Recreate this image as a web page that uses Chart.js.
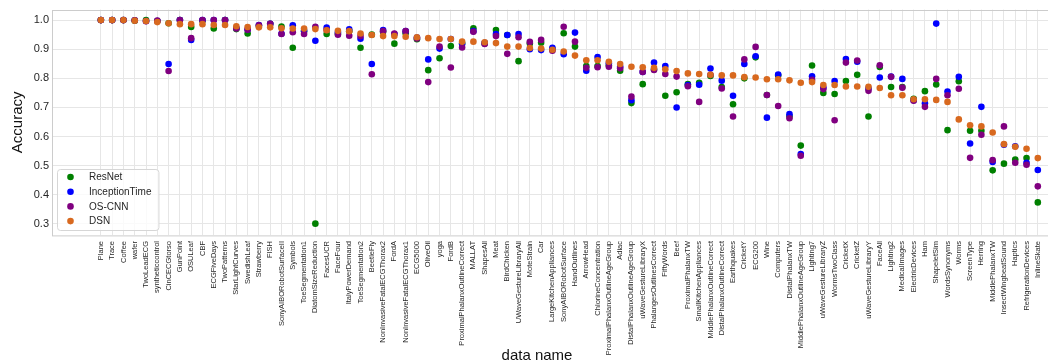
<!DOCTYPE html>
<html>
<head>
<meta charset="utf-8">
<script src="https://cdn.jsdelivr.net/npm/chart.js@4/dist/chart.umd.min.js"></script>
<style>
  html, body { margin: 0; padding: 0; background: #fff; overflow: hidden; }
  #wrap { width: 1090px; height: 364px; position: relative; }
</style>
</head>
<body>
<div id="wrap"><canvas id="accChart"></canvas></div>
<script>
let dataNames = ['Plane', 'Trace', 'Coffee', 'wafer', 'TwoLeadECG', 'syntheticcontrol', 'CinCECGtorso',
'GunPoint', 'OSULeaf', 'CBF', 'ECGFiveDays', 'TwoPatterns', 'StarLightCurves', 'SwedishLeaf',
'Strawberry', 'FISH', 'SonyAIBORobotSurfaceII', 'Symbols', 'ToeSegmentation1', 'DiatomSizeReduction',
'FacesUCR', 'FaceFour', 'ItalyPowerDemand', 'ToeSegmentation2', 'BeetleFly',
'NonInvasiveFatalECGThorax2', 'FordA', 'NonInvasiveFatalECGThorax1', 'ECG5000', 'OliveOil', 'yoga',
'FordB', 'ProximalPhalanxOutlineCorrect', 'MALLAT', 'ShapesAll', 'Meat', 'BirdChicken',
'UWaveGestureLibraryAll', 'MoteStrain', 'Car', 'LargeKitchenAppliances', 'SonyAIBORobotSurface',
'HandOutlines', 'ArrowHead', 'ChlorineConcentration', 'ProximalPhalanxOutlineAgeGroup', 'Adiac',
'DistalPhalanxOutlineAgeGroup', 'uWaveGestureLibraryX', 'PhalangesOutlinesCorrect', 'FiftyWords',
'Beef', 'ProximalPhalanxTW', 'SmallKitchenAppliances', 'MiddlePhalanxOutlineCorrect',
'DistalPhalanxOutlineCorrect', 'Earthquakes', 'CricketY', 'ECG200', 'Wine', 'Computers',
'DistalPhalanxTW', 'MiddlePhalanxOutlineAgeGroup', 'Lighting7', 'uWaveGestureLibraryZ',
'WormsTwoClass', 'CricketX', 'CricketZ', 'uWaveGestureLibraryY', 'FaceAll', 'Lighting2',
'MedicalImages', 'ElectricDevices', 'Ham', 'ShapeletSim', 'WordsSynonyms', 'Worms', 'ScreenType',
'Herring', 'MiddlePhalanxTW', 'InsectWingbeatSound', 'Haptics', 'RefrigerationDevices', 'InlineSkate'];

let resnetAcc = [1.0, 1.0, 1.0, 0.998, 1.0, 0.997, 0.989, 1.0, 0.976, 0.998, 0.971, 1.0, 0.969, 0.954,
0.980, 0.987, 0.978, 0.905, 0.962, 0.301, 0.952, 0.952, 0.962, 0.905, 0.950, 0.960, 0.919, 0.955, 0.934,
0.828, 0.869, 0.911, 0.920, 0.972, 0.920, 0.966, 0.949, 0.859, 0.920, 0.922, 0.900, 0.955, 0.909, 0.842,
0.842, 0.845, 0.826, 0.715, 0.780, 0.830, 0.740, 0.752, 0.780, 0.785, 0.808, 0.770, 0.711, 0.800, 0.872,
0.743, 0.810, 0.670, 0.569, 0.844, 0.750, 0.746, 0.791, 0.812, 0.669, 0.839, 0.770, 0.770, 0.730, 0.756,
0.779, 0.622, 0.790, 0.620, 0.620, 0.484, 0.507, 0.521, 0.526, 0.374];

let inceptionAcc = [1.0, 1.0, 1.0, 0.999, 0.997, 0.997, 0.849, 1.0, 0.932, 1.0, 1.0, 1.0, 0.973, 0.968,
0.983, 0.987, 0.953, 0.982, 0.963, 0.929, 0.974, 0.958, 0.968, 0.936, 0.849, 0.966, 0.952, 0.962, 0.940,
0.865, 0.902, 0.935, 0.918, 0.962, 0.922, 0.952, 0.949, 0.952, 0.900, 0.897, 0.905, 0.883, 0.957, 0.826,
0.873, 0.852, 0.840, 0.725, 0.822, 0.854, 0.842, 0.700, 0.777, 0.778, 0.834, 0.792, 0.740, 0.849, 0.876,
0.665, 0.813, 0.677, 0.540, 0.807, 0.768, 0.791, 0.866, 0.857, 0.765, 0.803, 0.806, 0.798, 0.725, 0.714,
0.988, 0.755, 0.805, 0.576, 0.702, 0.513, 0.572, 0.567, 0.510, 0.485];

let oscnnAcc = [1.0, 1.0, 1.0, 0.999, 0.996, 0.998, 0.825, 1.0, 0.938, 1.0, 1.0, 1.0, 0.971, 0.967,
0.982, 0.987, 0.952, 0.958, 0.952, 0.977, 0.966, 0.950, 0.946, 0.945, 0.814, 0.962, 0.954, 0.962, 0.937,
0.787, 0.909, 0.837, 0.906, 0.960, 0.918, 0.945, 0.884, 0.941, 0.925, 0.932, 0.895, 0.977, 0.926, 0.836,
0.838, 0.840, 0.835, 0.737, 0.822, 0.829, 0.815, 0.806, 0.773, 0.719, 0.812, 0.765, 0.669, 0.865, 0.908,
0.743, 0.705, 0.663, 0.534, 0.795, 0.763, 0.656, 0.854, 0.861, 0.757, 0.845, 0.805, 0.768, 0.723, 0.702,
0.798, 0.742, 0.764, 0.527, 0.606, 0.519, 0.635, 0.510, 0.503, 0.429];

let dsnAcc = [1.0, 1.0, 1.0, 0.998, 0.997, 0.993, 0.989, 0.986, 0.986, 0.986, 0.983, 0.983, 0.979, 0.976,
0.975, 0.975, 0.972, 0.971, 0.971, 0.969, 0.965, 0.963, 0.962, 0.954, 0.949, 0.945, 0.945, 0.943, 0.941,
0.938, 0.935, 0.935, 0.926, 0.926, 0.924, 0.921, 0.909, 0.909, 0.904, 0.902, 0.898, 0.892, 0.878, 0.862,
0.862, 0.857, 0.849, 0.840, 0.838, 0.836, 0.831, 0.825, 0.817, 0.815, 0.812, 0.810, 0.810, 0.804, 0.803,
0.797, 0.797, 0.793, 0.785, 0.787, 0.777, 0.777, 0.772, 0.772, 0.771, 0.767, 0.742, 0.742, 0.728, 0.728,
0.726, 0.719, 0.659, 0.639, 0.635, 0.614, 0.574, 0.565, 0.558, 0.526];

let yTickValues = [0.3, 0.4, 0.5, 0.6, 0.7, 0.8, 0.9, 1.0];

const FONT = '"Liberation Sans", Arial, sans-serif';
const TEXT = '#262626';
const GRID = '#e6e6e6';

function toPoints(values) {
    return values.map((v, i) => ({ x: i, y: v }));
}

// listed back to front so DSN ends up on top, legend is flipped below
let seriesList = [
    { label: 'DSN', color: '#d8691f', values: dsnAcc },
    { label: 'OS-CNN', color: '#800080', values: oscnnAcc },
    { label: 'InceptionTime', color: '#0000ff', values: inceptionAcc },
    { label: 'ResNet', color: '#008000', values: resnetAcc }
];

// border, x title and matplotlib-like legend box
const decorPlugin = {
    id: 'decor',
    afterDraw(chart) {
        const ctx = chart.ctx;
        const area = chart.chartArea;
        ctx.save();
        ctx.strokeStyle = '#cccccc';
        ctx.lineWidth = 1;
        ctx.strokeRect(Math.round(area.left) + 0.5, Math.round(area.top) + 0.5,
            area.right - area.left, area.bottom - area.top);

        ctx.fillStyle = '#111';
        ctx.font = '15px ' + FONT;
        ctx.textAlign = 'center';
        ctx.textBaseline = 'alphabetic';
        ctx.fillText('data name', 537, 360);

        const items = chart.data.datasets.slice().reverse();
        ctx.font = '10px ' + FONT;
        let textW = 0;
        items.forEach(d => { textW = Math.max(textW, ctx.measureText(d.label).width); });
        const bx = 57, by = 169, bh = 61, bw = (89 - bx) + textW + 7;
        ctx.beginPath();
        ctx.roundRect(bx + 0.5, by + 0.5, bw, bh, 3);
        ctx.fillStyle = 'rgba(255,255,255,0.8)';
        ctx.fill();
        ctx.strokeStyle = '#d6d6d6';
        ctx.stroke();
        items.forEach((d, k) => {
            const cy = 177 + k * 14.7;
            ctx.beginPath();
            ctx.arc(70.5, cy, 3.3, 0, Math.PI * 2);
            ctx.fillStyle = d.backgroundColor;
            ctx.fill();
            ctx.fillStyle = TEXT;
            ctx.textAlign = 'left';
            ctx.textBaseline = 'middle';
            ctx.fillText(d.label, 89, cy + 0.5);
        });
        ctx.restore();
    }
};

let accChart = new Chart(document.getElementById('accChart'), {
    type: 'scatter',
    data: {
        datasets: seriesList.map(s => ({
            label: s.label,
            data: toPoints(s.values),
            backgroundColor: s.color,
            borderWidth: 0,
            pointRadius: 3.3,
            pointHoverRadius: 3.3
        }))
    },
    options: {
        responsive: true,
        maintainAspectRatio: false,
        animation: false,
        layout: { padding: { top: 9, right: 2, bottom: 0, left: 0 } },
        plugins: {
            legend: { display: false },
            tooltip: { enabled: false }
        },
        scales: {
            x: {
                type: 'linear',
                min: -4.33,
                max: 87.33,
                afterBuildTicks: scale => { scale.ticks = dataNames.map((n, i) => ({ value: i })); },
                afterFit: scale => { scale.height = 129; },
                ticks: {
                    autoSkip: false,
                    minRotation: 90,
                    maxRotation: 90,
                    padding: 6,
                    color: TEXT,
                    font: { size: 7.5, family: FONT },
                    callback: v => dataNames[v] ?? ''
                },
                grid: { color: GRID, drawTicks: false },
                border: { display: false }
            },
            y: {
                min: 0.262,
                max: 1.036,
                afterBuildTicks: scale => { scale.ticks = yTickValues.map(v => ({ value: v })); },
                afterFit: scale => { scale.width = 52; },
                ticks: {
                    padding: 3,
                    color: TEXT,
                    font: { size: 11, family: FONT },
                    callback: v => v.toFixed(1)
                },
                grid: { color: GRID, drawTicks: false },
                border: { display: false },
                title: {
                    display: true,
                    text: 'Accuracy',
                    color: '#111',
                    font: { size: 15, family: FONT },
                    padding: { top: 9, bottom: 0 }
                }
            }
        }
    },
    plugins: [decorPlugin]
});
</script>
</body>
</html>
